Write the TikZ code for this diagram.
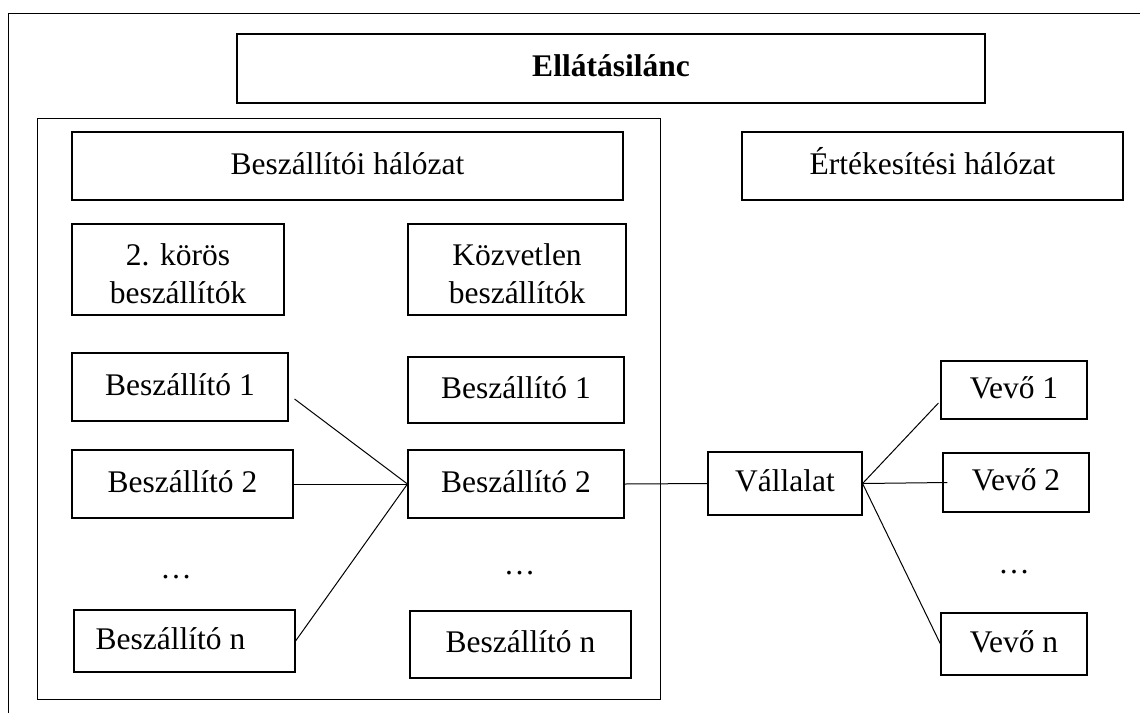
\documentclass[tikz,border=0pt]{standalone}
\usepackage{fontspec}
\setmainfont{Liberation Serif}
\begin{document}
\begin{tikzpicture}[x=1pt,y=-1pt,
  every node/.style={font=\fontsize{31.5}{38}\selectfont},
  box/.style={draw, line width=1.1pt, inner sep=0pt, align=center},
  oneline/.style={box, text height=24pt, text depth=8pt},
  frame/.style={draw, line width=1pt},
  link/.style={draw, line width=1pt}]
\useasboundingbox (0,0) rectangle (1140,713);

% open outer frame and the supplier-network frame
\draw[frame] (1140,13) -- (8,13) -- (8,713);
\draw[frame] (37,118) rectangle (660,699);

% headings
\node[oneline, minimum width=748pt, minimum height=69pt, font=\fontsize{31.5}{38}\selectfont\bfseries] (title) at (611,68.5) {Ellátásilánc};
\node[oneline, minimum width=551pt, minimum height=68pt] (supnet) at (347.5,166) {Beszállítói hálózat};
\node[oneline, minimum width=381pt, minimum height=68pt] (salnet) at (932.5,166) {Értékesítési hálózat};
\node[box, minimum width=212pt, minimum height=91pt] (tier2) at (178,269.5) {\rule{0pt}{30pt}2. körös\\beszállítók};
\node[box, minimum width=218pt, minimum height=91pt] (direct) at (517,269.5) {\rule{0pt}{30pt}Közvetlen\\beszállítók};

% second-tier suppliers
\node[oneline, minimum width=216pt, minimum height=68pt] (b1) at (180,387) {Beszállító 1};
\node[oneline, minimum width=221pt, minimum height=68pt] (b2) at (182.5,484) {Beszállító 2};
\node[oneline, minimum width=221pt, minimum height=62pt] (bn) at (184.5,641) {Beszállító n\hspace{28pt}};
\node (bdots) at (176,577) {\ldots};

% direct suppliers
\node[oneline, minimum width=216pt, minimum height=66pt] (d1) at (516,390) {Beszállító 1};
\node[oneline, minimum width=216pt, minimum height=68pt] (d2) at (516,484) {Beszállító 2};
\node[oneline, minimum width=221pt, minimum height=67pt] (dn) at (520.5,644.5) {Beszállító n};
\node (ddots) at (519.5,573) {\ldots};

% company and customers
\node[oneline, minimum width=154pt, minimum height=63pt] (firm) at (785,483.5) {Vállalat};
\node[oneline, minimum width=146pt, minimum height=58pt] (c1) at (1014,390) {Vevő 1};
\node[oneline, minimum width=146pt, minimum height=59pt] (c2) at (1016,482.5) {Vevő 2};
\node[oneline, minimum width=146pt, minimum height=62pt] (cn) at (1014,644) {Vevő n};
\node (cdots) at (1014,572) {\ldots};

% connectors
\draw[link] ([shift={(6,12)}]b1.east) -- (d2.west);
\draw[link] (b2.east) -- (d2.west);
\draw[link] (bn.east) -- (d2.west);
\draw[link] (d2.east) -- (firm.west);
\draw[link] (firm.east) -- ([shift={(-2,13)}]c1.west);
\draw[link] (firm.east) -- ([xshift=5pt]c2.west);
\draw[link] (firm.east) -- (cn.west);
\end{tikzpicture}
\end{document}
